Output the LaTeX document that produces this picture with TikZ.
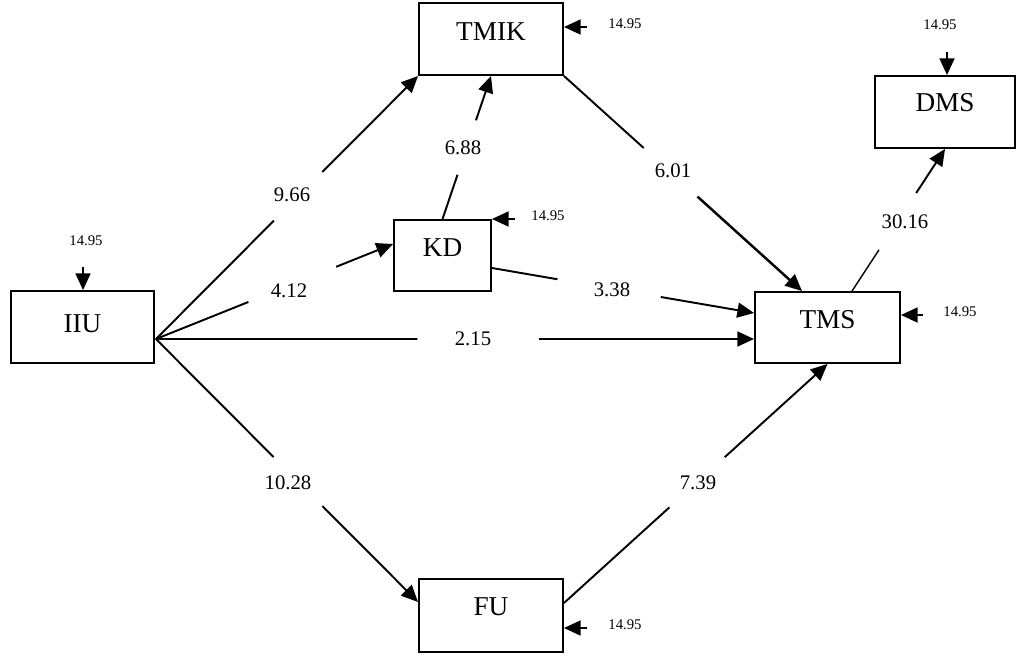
\documentclass[tikz,border=0pt]{standalone}
\usepackage{fontspec}
\setmainfont{Liberation Serif}
\usetikzlibrary{arrows.meta,calc}
\begin{document}
\begin{tikzpicture}[x=0.02cm,y=-0.02cm,
  box/.style={draw,line width=1.1pt,rectangle,inner sep=0pt,font=\fontsize{15.5}{18}\selectfont,text depth=0.3cm},
  conn/.style={line width=1.1pt},
  arr/.style={line width=1.1pt,-{Triangle[length=9.5pt,width=8.5pt]}},
  val/.style={font=\fontsize{11.8}{14}\selectfont,inner sep=1pt},
  err/.style={font=\fontsize{8.4}{10}\selectfont,inner sep=1pt}]
\useasboundingbox (0,0) rectangle (1016,656);

% boxes
\node[box,minimum width=2.86cm,minimum height=1.44cm,text depth=0.15cm] (IIU) at (82.5,327) {IIU};
\node[box,minimum width=2.88cm,minimum height=1.44cm] (TMIK) at (491,39) {TMIK};
\node[box,minimum width=2.8cm,minimum height=1.44cm,text depth=0.38cm] (DMS) at (945,112) {DMS};
\node[box,minimum width=1.94cm,minimum height=1.42cm] (KD) at (442.5,255.5) {KD};
\node[box,minimum width=2.9cm,minimum height=1.42cm,text depth=0.34cm] (TMS) at (827.5,327.5) {TMS};
\node[box,minimum width=2.88cm,minimum height=1.46cm,text depth=0.36cm] (FU) at (491,615.5) {FU};

% error terms
\coordinate (tTMIK) at (587,27);
\draw[arr] (tTMIK) -- (TMIK.east |- tTMIK);
\node[err] (eTMIK) at (625,24) {14.95};
\coordinate (tDMS) at (947,52);
\draw[arr] (tDMS) -- (tDMS |- DMS.north);
\node[err] (eDMS) at (940,25) {14.95};
\coordinate (tIIU) at (83,267);
\draw[arr] (tIIU) -- (tIIU |- IIU.north);
\node[err] (eIIU) at (86,241) {14.95};
\coordinate (tKD) at (515,219);
\draw[arr] (tKD) -- (KD.east |- tKD);
\node[err] (eKD) at (548,216) {14.95};
\coordinate (tTMS) at (923,315);
\draw[arr] (tTMS) -- (TMS.east |- tTMS);
\node[err] (eTMS) at (960,312) {14.95};
\coordinate (tFU) at (587,628);
\draw[arr] (tFU) -- (FU.east |- tFU);
\node[err] (eFU) at (625,625) {14.95};

% connector end points
\coordinate (o) at ($(IIU.east)+(1,12)$);
\coordinate (kdin) at ($(KD.west)+(0,-11.5)$);
\coordinate (tmsin) at ($(TMS.west)+(0,11.5)$);
\coordinate (fuin) at ($(FU.west)+(0,-13.5)$);
\coordinate (tmstop) at ($(TMS.north)+(-25.5,0)$);
\coordinate (kdout) at ($(KD.east)+(0,12.5)$);
\coordinate (tmsin2) at ($(TMS.west)+(0,-14.5)$);
\coordinate (fuout) at ($(FU.east)+(0,-12.5)$);
\coordinate (tmsout) at ($(TMS.north)+(24.5,0)$);

% IIU -> TMIK
\draw[conn] (o) -- ($(o)!0.45!(TMIK.south west)$);
\draw[arr] ($(o)!0.635!(TMIK.south west)$) -- (TMIK.south west);
\node[val] (l1) at (292,195) {9.66};
% IIU -> KD
\draw[conn] (o) -- ($(o)!0.39!(kdin)$);
\draw[arr] ($(o)!0.76!(kdin)$) -- (kdin);
\node[val] (l2) at (289,291) {4.12};
% IIU -> TMS
\draw[conn] (o) -- ($(o)!0.437!(tmsin)$);
\draw[arr] ($(o)!0.641!(tmsin)$) -- (tmsin);
\node[val] (l3) at (473,339) {2.15};
% IIU -> FU
\draw[conn] (o) -- ($(o)!0.449!(fuin)$);
\draw[arr] ($(o)!0.635!(fuin)$) -- (fuin);
\node[val] (l4) at (288,483) {10.28};
% KD -> TMIK
\draw[conn] (KD.north) -- ($(KD.north)!0.31!(TMIK.south)$);
\draw[arr] ($(KD.north)!0.69!(TMIK.south)$) -- (TMIK.south);
\node[val] (l5) at (463,148) {6.88};
% TMIK -> TMS
\draw[conn] (TMIK.south east) -- ($(TMIK.south east)!0.335!(tmstop)$);
\draw[arr,line width=1.4pt] ($(TMIK.south east)!0.561!(tmstop)$) -- (tmstop);
\node[val] (l6) at (673,171) {6.01};
% KD -> TMS
\draw[conn] (kdout) -- ($(kdout)!0.25!(tmsin2)$);
\draw[arr] ($(kdout)!0.644!(tmsin2)$) -- (tmsin2);
\node[val] (l7) at (612,290) {3.38};
% FU -> TMS
\draw[conn] (fuout) -- ($(fuout)!0.40!(TMS.south)$);
\draw[arr] ($(fuout)!0.61!(TMS.south)$) -- (TMS.south);
\node[val] (l8) at (698,483) {7.39};
% TMS -> DMS
\draw[line width=0.8pt] (tmsout) -- ($(tmsout)!0.29!(DMS.south)$);
\draw[arr] ($(tmsout)!0.69!(DMS.south)$) -- (DMS.south);
\node[val] (l9) at (905,222) {30.16};
\end{tikzpicture}
\end{document}
